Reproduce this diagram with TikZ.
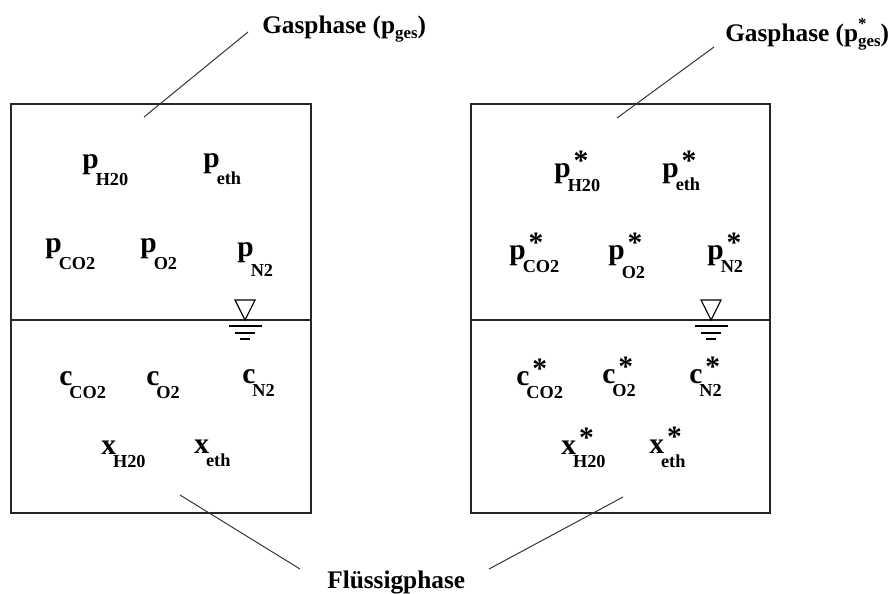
\documentclass[tikz,border=0pt]{standalone}
\usepackage{fontspec}
\setmainfont{Liberation Serif}

% partial pressure / concentration symbol: letter, star, lowered index
\newcommand{\spc}[4][0.6em]{#2\rlap{\kern0.1em\raisebox{0.22em}{#3}}\kern-0.1em\raisebox{-#1}{\fontsize{13}{13}\selectfont #4}}
\newcommand{\lsub}[1]{\raisebox{-0.2em}{\fontsize{12}{12}\selectfont #1}}

\begin{document}
\begin{tikzpicture}[
    x=0.025cm, y=-0.025cm,
    tank/.style={draw=black!85, line width=1.2pt},
    lead/.style={draw=black!80, line width=0.7pt},
    sym/.style={font=\fontsize{21}{21}\selectfont\bfseries, inner sep=0pt, anchor=base west},
    phase/.style={font=\fontsize{18}{18}\selectfont\bfseries, inner sep=0pt, anchor=base west},
    level/.pic={
        \draw[line width=0.8pt] (-10,-20) -- (10,-20) -- (0,0) -- cycle;
        \draw[line width=1pt] (-16,6) -- (17,6);
        \draw[line width=1pt] (-10,13) -- (10,13);
        \draw[line width=1pt] (-5,19) -- (5,19);
    },
]
\useasboundingbox (0,0) rectangle (893,593);

% tanks with interface
\draw[tank] (11,104) rectangle (311,513);
\draw[tank] (11,320) -- (311,320);
\draw[tank] (471,104) rectangle (770,513);
\draw[tank] (471,320) -- (770,320);
\pic at (245,320) {level};
\pic at (711,320) {level};

% left tank, gas phase
\node[sym] (pHL) at (82,168) {\spc{p}{}{H20}};
\node[sym] (pethL) at (203,167) {\spc{p}{}{eth}};
\node[sym] (pCOL) at (45,252) {\spc{p}{}{CO2}};
\node[sym] (pOL) at (140,252) {\spc{p}{}{O2}};
\node[sym] (pNL) at (237,256) {\spc[0.7em]{p}{}{N2}};

% left tank, liquid phase
\node[sym] (cCOL) at (59,385) {\spc[0.45em]{c}{}{CO2}};
\node[sym] (cOL) at (146,385) {\spc[0.45em]{c}{}{O2}};
\node[sym] (cNL) at (242,383) {\spc[0.45em]{c}{}{N2}};
\node[sym] (xHL) at (101,454) {\spc[0.45em]{x}{}{H20}};
\node[sym] (xethL) at (194,453) {\spc[0.45em]{x}{}{eth}};

% right tank, gas phase
\node[sym] (pHR) at (554,177) {\spc[0.5em]{p}{*}{H20}};
\node[sym] (pethR) at (662,177) {\spc[0.45em]{p}{*}{eth}};
\node[sym] (pCOR) at (509,259) {\spc[0.45em]{p}{*}{CO2}};
\node[sym] (pOR) at (608,259) {\spc[0.65em]{p}{*}{O2}};
\node[sym] (pNR) at (707,259) {\spc[0.45em]{p}{*}{N2}};

% right tank, liquid phase
\node[sym] (cCOR) at (516,385) {\spc[0.45em]{c}{*}{CO2}};
\node[sym] (cOR) at (602,383) {\spc[0.45em]{c}{*}{O2}};
\node[sym] (cNR) at (689,383) {\spc[0.45em]{c}{*}{N2}};
\node[sym] (xHR) at (561,454) {\spc[0.45em]{x}{*}{H20}};
\node[sym] (xethR) at (649,453) {\spc[0.5em]{x}{*}{eth}};

% phase labels and leaders
\node[phase] (gasL) at (262,33) {Gasphase (p\lsub{ges})};
\node[phase] (gasR) at (725,41) {Gasphase (p\rlap{\raisebox{0.45em}{\fontsize{12}{12}\selectfont *}}\lsub{ges})};
\node[phase] (liq) at (327,588) {Flüssigphase};

\coordinate (gasLa) at (248,32);
\coordinate (gasLb) at (144,117);
\coordinate (gasRa) at (714,47);
\coordinate (gasRb) at (617,118);
\coordinate (liqLa) at (300,569);
\coordinate (liqLb) at (180,495);
\coordinate (liqRa) at (489,569);
\coordinate (liqRb) at (623,497);
\draw[lead] (gasLa) -- (gasLb);
\draw[lead] (gasRa) -- (gasRb);
\draw[lead] (liqLa) -- (liqLb);
\draw[lead] (liqRa) -- (liqRb);
\end{tikzpicture}
\end{document}
